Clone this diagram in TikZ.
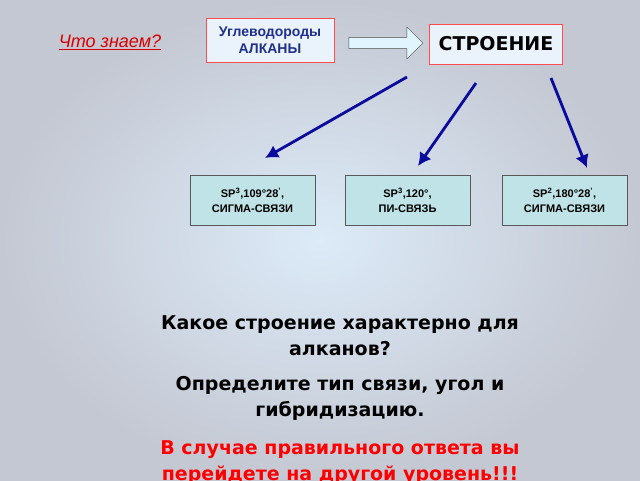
\documentclass[tikz,border=0pt]{standalone}
\usepackage{fontspec}
\setmainfont{Liberation Sans}
\setsansfont{DejaVu Sans}
\usetikzlibrary{shapes.arrows,arrows.meta}
\definecolor{bxfill}{HTML}{BFE3E6}
\definecolor{arrblue}{HTML}{0A0A9C}
\definecolor{titleblue}{HTML}{1E2F8C}
\definecolor{bgin}{HTML}{DCEBF8}
\definecolor{bgout}{HTML}{C4C8D2}
\tikzset{
 topbox/.style={draw=red!70!white,fill=bgin!60!white,line width=0.6pt,inner sep=0},
 lowbox/.style={draw=gray!70!black,fill=bxfill,line width=0.6pt,minimum width=125pt,minimum height=50pt,align=center,font=\bfseries\fontsize{11}{15}\selectfont},
 bluearr/.style={draw=arrblue,line width=2.8pt,-{Latex[length=13pt,width=14pt]}},
 body/.style={font=\sffamily\bfseries\fontsize{19}{26}\selectfont,align=center}
}
\begin{document}
\begin{tikzpicture}[x=1pt,y=-1pt]
\useasboundingbox (0,0) rectangle (640,480);
\shade[inner color=bgin,outer color=bgout] (0,0) rectangle (640,480);
\node[topbox,minimum width=128pt,minimum height=44pt,align=center,font=\bfseries\fontsize{14}{17}\selectfont,text=titleblue] (hc) at (270,40) {Углеводороды\\АЛКАНЫ};
\node[topbox,minimum width=133pt,minimum height=40pt,font=\sffamily\bfseries\fontsize{19}{22}\selectfont] (st) at (496,44) {СТРОЕНИЕ};
\node[single arrow,draw=gray!60!black,fill=cyan!12!white,minimum width=32pt,single arrow head extend=4pt,minimum height=74pt,inner sep=2pt] (ar) at (383,43) {};
\node[text=red!85!black,font=\itshape\fontsize{18}{20}\selectfont] (q) at (110,42) {\underline{Что знаем?}};
\node[lowbox] (b1) at (252.5,200) {SP\textsuperscript{3},109°28\textsuperscript{'},\\СИГМА-СВЯЗИ};
\node[lowbox] (b2) at (407.5,200) {SP\textsuperscript{3},120°,\\ПИ-СВЯЗЬ};
\node[lowbox] (b3) at (564.5,200) {SP\textsuperscript{2},180°28\textsuperscript{'},\\СИГМА-СВЯЗИ};
\coordinate (s1) at (407,77); \coordinate (e1) at (265,158);
\coordinate (s2) at (476,83); \coordinate (e2) at (418,166);
\coordinate (s3) at (551,78); \coordinate (e3) at (587,168);
\draw[bluearr] (s1) -- (e1);
\draw[bluearr] (s2) -- (e2);
\draw[bluearr] (s3) -- (e3);
\node[body] (t1) at (340,336) {Какое строение характерно для\\алканов?};
\node[body] (t2) at (340,398) {Определите тип связи, угол и\\гибридизацию.};
\node[body,text=red] (t3) at (340,463) {В случае правильного ответа вы\\перейдете на другой уровень!!!};
\end{tikzpicture}
\end{document}
